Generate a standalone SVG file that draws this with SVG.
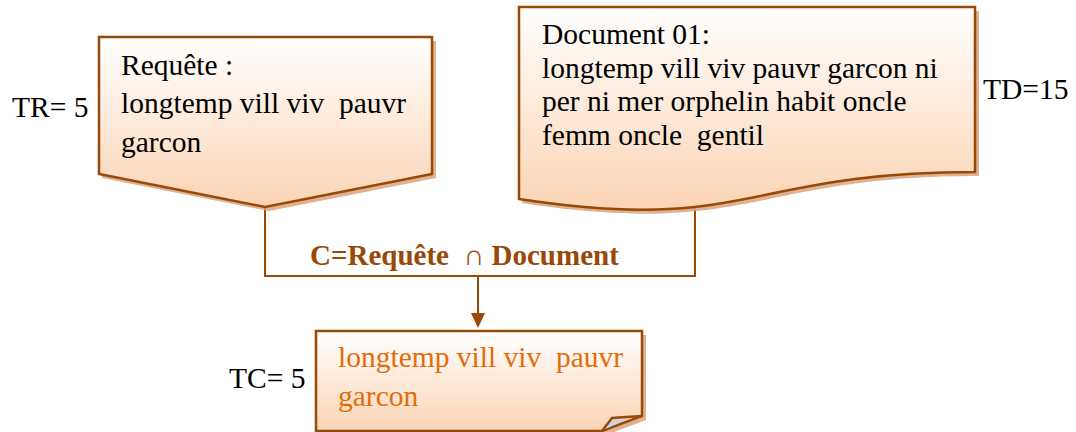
<svg xmlns="http://www.w3.org/2000/svg" width="1076" height="432" viewBox="0 0 1076 432">
  <defs>
    <linearGradient id="peach" x1="0" y1="0" x2="0" y2="1">
      <stop offset="0" stop-color="#ffffff"/>
      <stop offset="1" stop-color="#fbd4b4"/>
    </linearGradient>
    <style>
      text { white-space: pre; }
      .shape { fill: url(#peach); stroke: #984807; stroke-width: 2.5; stroke-linejoin: miter; }
      .shadow { fill: #d9a47e; opacity: 0.85; }
      .txt { font-family: "Liberation Serif", "Times New Roman", serif; font-size: 29.5px; fill: #000; }
      .orange { fill: #e36c0a; }
      .label { font-family: "Liberation Serif", "Times New Roman", serif; font-size: 29px; font-weight: bold; fill: #984807; }
      .link { fill: none; stroke: #984807; stroke-width: 2; }
      .head { fill: #984807; }
    </style>
  </defs>

  <!-- connectors -->
  <g id="connectors">
    <polyline class="link" points="265,207 265,276 695,276 695,209"/>
    <line class="link" x1="478" y1="276" x2="478" y2="315" stroke-width="2.5"/>
    <polygon class="head" points="471,313 485,313 478,328"/>
    <text class="label" x="310" y="265" xml:space="preserve">C=Requête  ∩ Document</text>
  </g>

  <!-- query: off-page connector shape -->
  <g id="requete">
    <path class="shadow" d="M102,41 H436 V178 L269,211 L102,178 Z"/>
    <path class="shape" d="M99,37 H432 V174 L265,207 L99,174 Z"/>
    <text class="txt" x="121" y="75">Requête :</text>
    <text class="txt" x="121" y="113" xml:space="preserve">longtemp vill viv  pauvr</text>
    <text class="txt" x="121" y="152">garcon</text>
    <text class="txt" x="12" y="117">TR= 5</text>
  </g>

  <!-- document shape -->
  <g id="document">
    <path class="shadow" d="M522,11 H979 V176 C751,176 751,238 522,203 Z"/>
    <path class="shape" d="M519,7 H975 V172 C747,172 747,234 519,199 Z"/>
    <text class="txt" x="542" y="44">Document 01:</text>
    <text class="txt" x="542" y="78">longtemp vill viv pauvr garcon ni</text>
    <text class="txt" x="542" y="111">per ni mer orphelin habit oncle</text>
    <text class="txt" x="542" y="145" xml:space="preserve">femm oncle  gentil</text>
    <text class="txt" x="983" y="99">TD=15</text>
  </g>

  <!-- common terms: folded-corner note -->
  <g id="commun">
    <path class="shadow" d="M319,335 H646 V420 L606,435 H319 Z"/>
    <path class="shape" d="M316,331 H642 V416 L602,431 H316 Z"/>
    <path d="M603,430 L612,419 L628,419 Z" fill="#cfd3da"/>
    <path d="M602,431 L612,418 Q626,417 642,416" fill="none" stroke="#984807" stroke-width="2.5"/>
    <text class="txt orange" x="338" y="367" xml:space="preserve">longtemp vill viv  pauvr</text>
    <text class="txt orange" x="338" y="406">garcon</text>
    <text class="txt" x="229" y="388">TC= 5</text>
  </g>
</svg>
